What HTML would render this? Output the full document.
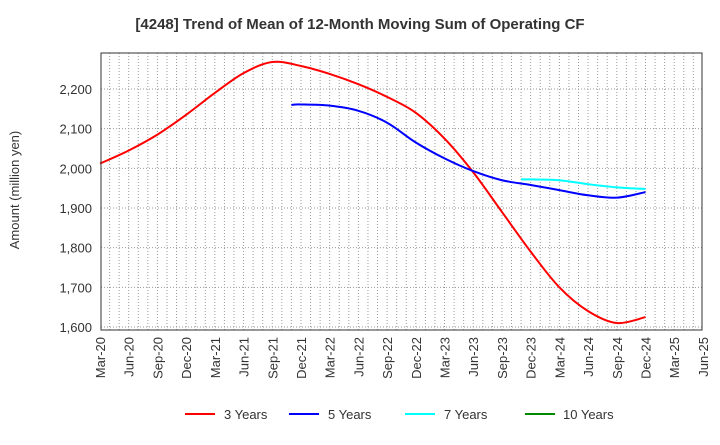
<!DOCTYPE html>
<html><head><meta charset="utf-8"><style>
body{margin:0;background:#fff;font-family:"Liberation Sans",sans-serif}
svg text{font-family:"Liberation Sans",sans-serif}
</style></head><body>
<svg id="c" width="720" height="440" xmlns="http://www.w3.org/2000/svg">
<text x="360" y="29" text-anchor="middle" font-size="15" font-weight="bold" fill="#333">[4248]  Trend of Mean of 12-Month Moving Sum of Operating CF</text>
<text transform="translate(19,190) rotate(-90)" text-anchor="middle" font-size="13" fill="#333">Amount (million yen)</text>
<g id="grid"></g><g id="series"></g><g id="axes"></g>
<g font-size="13" fill="#333">
<g><line x1="185" y1="414" x2="215" y2="414" stroke="#f00" stroke-width="2"/><text x="224" y="419">3 Years</text></g>
<g><line x1="289" y1="414" x2="319" y2="414" stroke="#00f" stroke-width="2"/><text x="328" y="419">5 Years</text></g>
<g><line x1="405" y1="414" x2="435" y2="414" stroke="#0ff" stroke-width="2"/><text x="444" y="419">7 Years</text></g>
<g><line x1="525" y1="414" x2="555" y2="414" stroke="#080" stroke-width="2"/><text x="563" y="419">10 Years</text></g>
</g>
</svg>
<script>
const xLabels=["Mar-20","Jun-20","Sep-20","Dec-20","Mar-21","Jun-21","Sep-21","Dec-21","Mar-22","Jun-22","Sep-22","Dec-22","Mar-23","Jun-23","Sep-23","Dec-23","Mar-24","Jun-24","Sep-24","Dec-24","Mar-25","Jun-25"];
const yTicks=[1600,1700,1800,1900,2000,2100,2200];
const red3Months=[0,3,6,9,12,15,18,21,24,27,30,33,36,39,42,45,48,51,54,57];
const red3Values=[2012,2045,2085,2135,2190,2240,2268,2258,2238,2212,2180,2140,2075,1990,1890,1790,1700,1640,1610,1625];
const blue5Months=[20,21,24,27,30,33,36,39,42,45,48,51,54,57];
const blue5Values=[2160,2161,2158,2145,2115,2065,2025,1993,1970,1958,1945,1932,1926,1940];
const cyan7Months=[44,45,48,51,54,57];
const cyan7Values=[1972,1972,1970,1960,1952,1948];
const L=101,R=702,T=53,B=330;
const x=m=>100+m*9.57;
const y=v=>327-(v-1600)*0.3967;
const NS="http://www.w3.org/2000/svg";
function mk(p,t,a){const e=document.createElementNS(NS,t);for(const k in a)e.setAttribute(k,a[k]);p.appendChild(e);return e;}
const grid=document.getElementById('grid'),axes=document.getElementById('axes'),ser=document.getElementById('series');
for(let m=1;m<63;m++){const l=mk(grid,'line',{x1:x(m),x2:x(m),y1:T,y2:B,stroke:'#999','stroke-dasharray':'1,2','stroke-width':1});

}
yTicks.forEach(v=>{const l=mk(grid,'line',{x1:L,x2:R,y1:y(v),y2:y(v),stroke:'#999','stroke-dasharray':'1,2'});


const t=mk(axes,'text',{x:92,y:y(v)+5,'text-anchor':'end','font-size':13,fill:'#333'});t.textContent=v.toLocaleString('en-US');

});
const fr=mk(axes,'rect',{x:L,y:T,width:R-L,height:B-T,fill:'none',stroke:'#333'});


xLabels.forEach((s,i)=>{const px=x(i*3)+5;const t=mk(axes,'text',{transform:`translate(${px},337) rotate(-90)`,'text-anchor':'end','font-size':13,fill:'#333'});t.textContent=s;

});
function path(ms,vs){const p=ms.map((m,i)=>[x(m),y(vs[i])]);let d=`M${p[0][0]},${p[0][1]}`;
for(let i=0;i<p.length-1;i++){const p0=p[i-1]||p[i],p1=p[i],p2=p[i+1],p3=p[i+2]||p2;
d+=` C${p1[0]+(p2[0]-p0[0])/6},${p1[1]+(p2[1]-p0[1])/6} ${p2[0]-(p3[0]-p1[0])/6},${p2[1]-(p3[1]-p1[1])/6} ${p2[0]},${p2[1]}`;}return d;}
[[red3Months,red3Values,'#f00','line-3-years'],[blue5Months,blue5Values,'#00f','line-5-years'],[cyan7Months,cyan7Values,'#0ff','line-7-years']].forEach(s=>{
const e=mk(ser,'path',{d:path(s[0],s[1]),fill:'none',stroke:s[2],'stroke-width':2});

});
</script>
</body></html>
